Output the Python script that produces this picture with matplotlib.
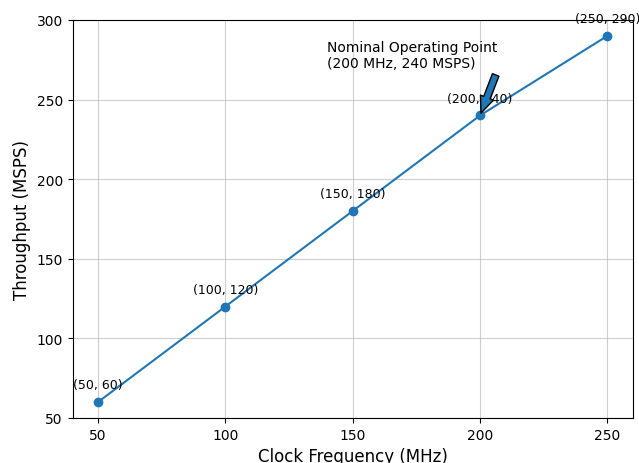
import numpy as np
import matplotlib.pyplot as plt

# clock frequency vs throughput
clock_mhz = [50, 100, 150, 200, 250]
throughput_msps = [60, 120, 180, 240, 290]

fig = plt.figure(figsize=(6.39, 4.64), dpi=100)
ax = fig.add_axes([0.1135, 0.097, 0.877, 0.858])

ax.plot(clock_mhz, throughput_msps, marker='o', color='#1f77b4')

# label every point
for x, y in zip(clock_mhz, throughput_msps):
    ax.annotate('(%d, %d)' % (x, y), (x, y), textcoords='offset points',
                xytext=(0, 10), ha='center', fontsize=9)

ax.annotate('Nominal Operating Point\n(200 MHz, 240 MSPS)', xy=(200, 240),
            xytext=(140, 270.5), fontsize=10,
            arrowprops=dict(facecolor='#1f77b4', shrink=0.05, width=5, headwidth=10))

ax.set_xlim(40, 260)
ax.set_ylim(50, 300)
ax.set_xticks([50, 100, 150, 200, 250])
ax.set_xlabel('Clock Frequency (MHz)', fontsize=12)
ax.set_ylabel('Throughput (MSPS)', fontsize=12)
ax.grid(True, alpha=0.6)

fig.savefig('out.png', dpi=100)
